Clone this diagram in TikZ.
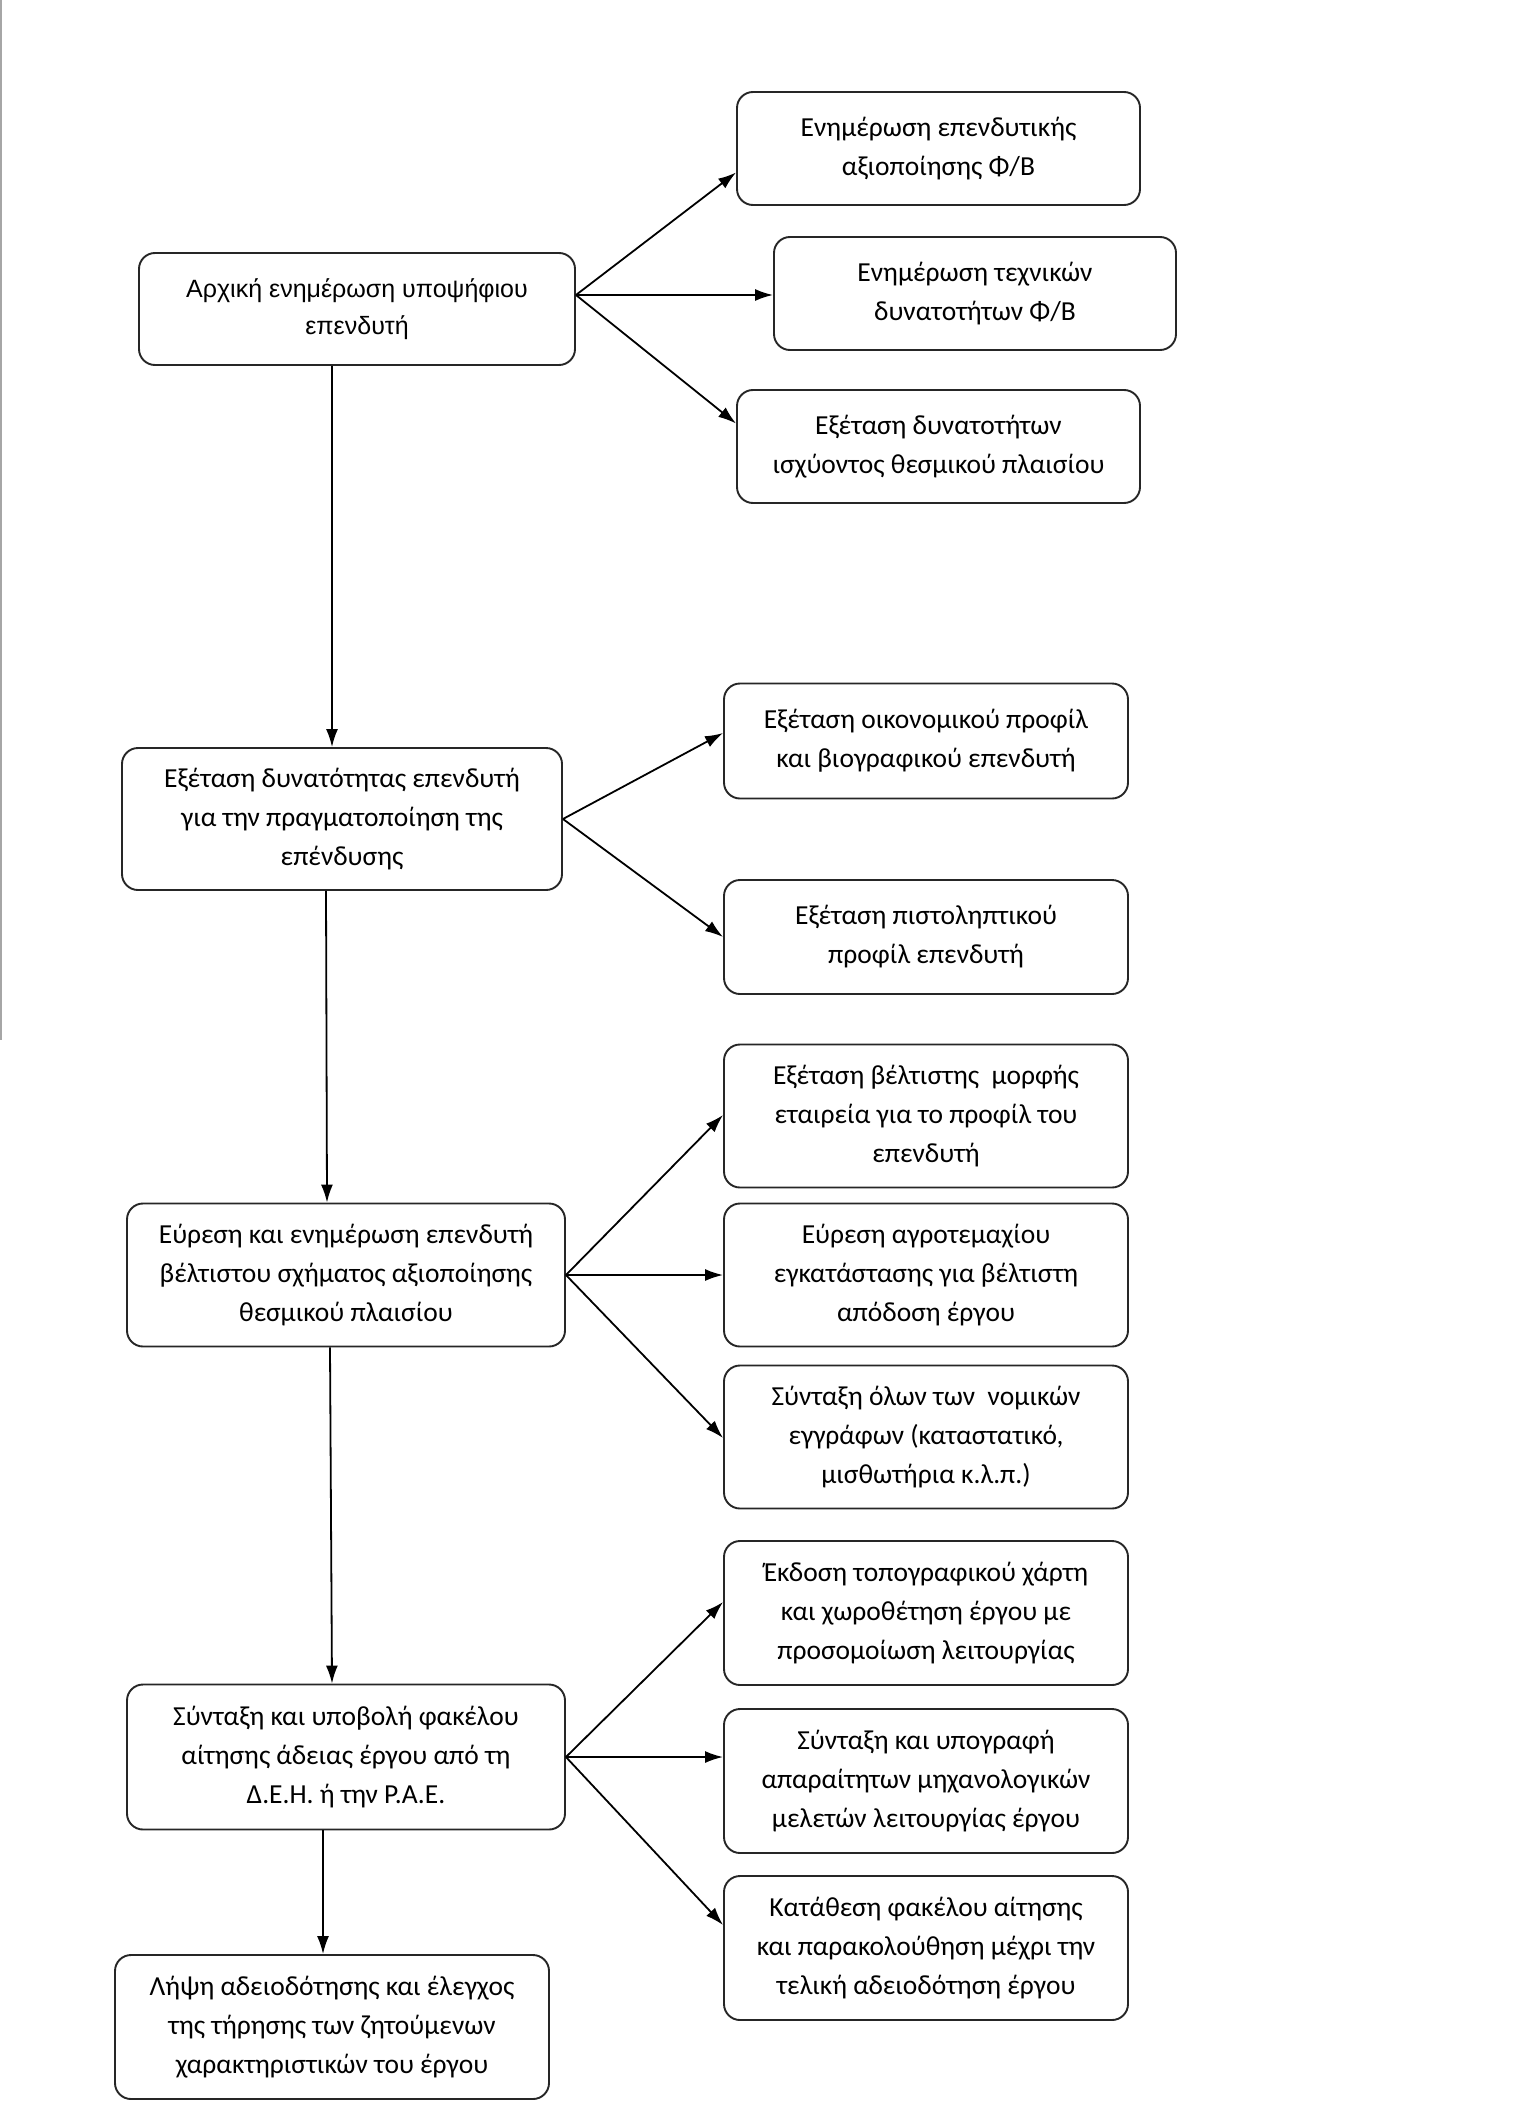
\documentclass[tikz,border=0pt]{standalone}
\usepackage{fontspec}
\setmainfont{Carlito}
\newfontfamily\arialfont{Liberation Sans}
\usetikzlibrary{arrows.meta,calc}
\begin{document}
\begin{tikzpicture}[x=1pt,y=-1pt,
  box/.style={draw=black!85,line width=1.9pt,rounded corners=16pt,align=center,inner sep=0pt,
    font=\fontsize{27.5}{39}\selectfont},
  arr/.style={line width=1.8pt,-{Latex[length=18pt,width=12pt]}}]
\useasboundingbox[fill=white] (0,0) rectangle (1515,2127);
\draw[gray!70,line width=2pt] (1,0) -- (1,1040);
% left column
\node[box,minimum width=436pt,minimum height=112pt,font=\arialfont\fontsize{25}{37}\selectfont] (B1) at (357,309) {Αρχική ενημέρωση υποψήφιου\\επενδυτή};
\node[box,minimum width=440pt,minimum height=142pt] (B2) at (342,819) {Εξέταση δυνατότητας επενδυτή\\για την πραγματοποίηση της\\επένδυσης};
\node[box,minimum width=438pt,minimum height=143pt] (B3) at (346,1275) {Εύρεση και ενημέρωση επενδυτή\\βέλτιστου σχήματος αξιοποίησης\\θεσμικού πλαισίου};
\node[box,minimum width=438pt,minimum height=145pt] (B4) at (346,1757) {Σύνταξη και υποβολή φακέλου\\αίτησης άδειας έργου από τη\\Δ.Ε.Η. ή την Ρ.Α.Ε.};
\node[box,minimum width=434pt,minimum height=144pt] (B5) at (332,2027) {Λήψη αδειοδότησης και έλεγχος\\της τήρησης των ζητούμενων\\χαρακτηριστικών του έργου};
% right column
\node[box,minimum width=403pt,minimum height=113pt] (R1) at (938.5,148.5) {Ενημέρωση επενδυτικής\\αξιοποίησης Φ/Β};
\node[box,minimum width=402pt,minimum height=113pt] (R2) at (975,293.5) {Ενημέρωση τεχνικών\\δυνατοτήτων Φ/Β};
\node[box,minimum width=403pt,minimum height=113pt] (R3) at (938.5,446.5) {Εξέταση δυνατοτήτων\\ισχύοντος θεσμικού πλαισίου};
\node[box,minimum width=404pt,minimum height=115pt] (R4) at (926,741) {Εξέταση οικονομικού προφίλ\\και βιογραφικού επενδυτή};
\node[box,minimum width=404pt,minimum height=114pt] (R5) at (926,937) {Εξέταση πιστοληπτικού\\προφίλ επενδυτή};
\node[box,minimum width=404pt,minimum height=143pt] (R6) at (926,1116) {Εξέταση βέλτιστης\ \ μορφής\\εταιρεία για το προφίλ του\\επενδυτή};
\node[box,minimum width=404pt,minimum height=143pt] (R7) at (926,1275) {Εύρεση αγροτεμαχίου\\εγκατάστασης για βέλτιστη\\απόδοση έργου};
\node[box,minimum width=404pt,minimum height=143pt] (R8) at (926,1437) {Σύνταξη όλων των\ \ νομικών\\εγγράφων (καταστατικό,\\μισθωτήρια κ.λ.π.)};
\node[box,minimum width=404pt,minimum height=144pt] (R9) at (926,1613) {Έκδοση τοπογραφικού χάρτη\\και χωροθέτηση έργου με\\προσομοίωση λειτουργίας};
\node[box,minimum width=404pt,minimum height=144pt] (R10) at (926,1781) {Σύνταξη και υπογραφή\\απαραίτητων μηχανολογικών\\μελετών λειτουργίας έργου};
\node[box,minimum width=404pt,minimum height=144pt] (R11) at (926,1948) {Κατάθεση φακέλου αίτησης\\και παρακολούθηση μέχρι την\\τελική αδειοδότηση έργου};
% branch arrows
\coordinate (o1) at ($(B1.east)+(0,-14)$);
\draw[arr] (o1) -- ($(R1.west)+(0,24)$);
\draw[arr] (o1) -- (R2.west |- o1);
\draw[arr] (o1) -- ($(R3.west)+(0,-23)$);
\draw[arr] (B2.east) -- ($(R4.west)+(0,-8)$);
\draw[arr] (B2.east) -- (R5.west);
\draw[arr] (B3.east) -- ($(R6.west)+(0,-1)$);
\draw[arr] (B3.east) -- (R7.west);
\draw[arr] (B3.east) -- ($(R8.west)+(0,1)$);
\draw[arr] (B4.east) -- ($(R9.west)+(0,-11)$);
\draw[arr] (B4.east) -- (R10.west |- B4.east);
\draw[arr] (B4.east) -- ($(R11.west)+(0,-23)$);
% main flow
\draw[arr] ([xshift=-25pt]B1.south) -- ([xshift=-10pt]B2.north);
\draw[arr] ([xshift=-16pt]B2.south) -- ([xshift=-19pt]B3.north);
\draw[arr] ([xshift=-16pt]B3.south) -- ([xshift=-14pt]B4.north);
\draw[arr] ([xshift=-23pt]B4.south) -- ([xshift=-9pt]B5.north);
\end{tikzpicture}
\end{document}
